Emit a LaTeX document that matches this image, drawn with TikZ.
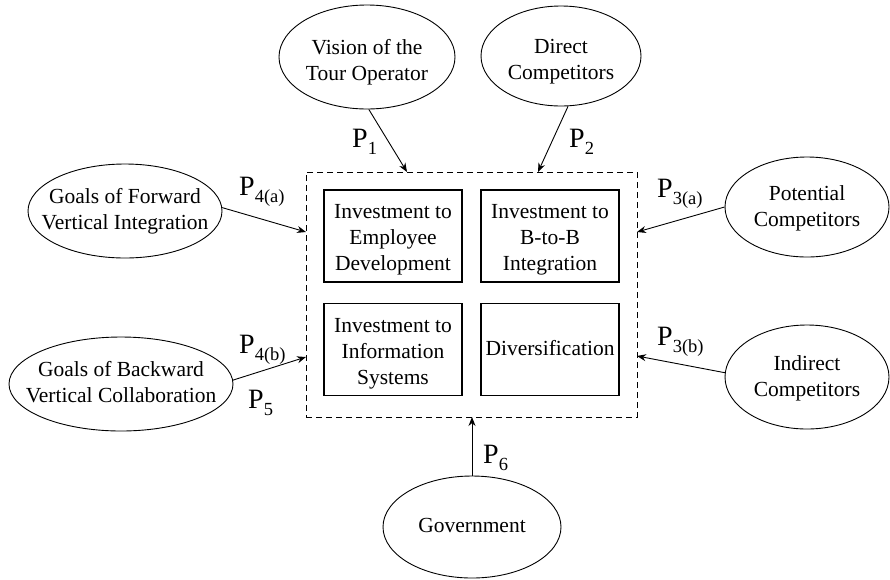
\documentclass[tikz,border=0pt]{standalone}
\usepackage{fontspec}
\setmainfont{Liberation Serif}
\usetikzlibrary{shapes.geometric,arrows.meta}
\newcommand\plab[1]{{\fontsize{28}{30}\selectfont P}\raisebox{-7pt}{\fontsize{18.5}{20}\selectfont #1}}
\newcommand\celltext[2]{\raisebox{#1}[0pt][0pt]{\makebox[0pt]{\begin{tabular}{@{}c@{}}#2\end{tabular}}}}
\begin{document}
\begin{tikzpicture}[x=1pt,y=-1pt,
  ell/.style={draw,ellipse,line width=0.9pt,inner sep=0pt,font=\fontsize{21.5}{26}\selectfont},
  ibox/.style={draw,rectangle,line width=1.3pt,inner sep=0pt,minimum width=138pt,minimum height=92pt,font=\fontsize{21.5}{26}\selectfont},
  outerbox/.style={draw,rectangle,dashed,dash pattern=on 6pt off 4pt,line width=0.9pt,inner sep=0pt,minimum width=331pt,minimum height=245pt},
  arr/.style={-{Stealth[length=9pt,width=7pt]},line width=0.9pt},
  plabel/.style={anchor=base west,inner sep=0pt}]
\useasboundingbox (0,0) rectangle (890,579);

\node[outerbox] (outer) at (471.5,294.5) {};
\node[ibox] (emp) at (393,236) {\celltext{-8.5pt}{Investment to\\Employee\\Development}};
\node[ibox] (btb) at (550,236) {\celltext{-8.5pt}{Investment to\\B-to-B\\Integration}};
\node[ibox] (inf) at (393,349.5) {\celltext{-8.5pt}{Investment to\\Information\\Systems}};
\node[ibox] (div) at (550,349.5) {\celltext{-6pt}{Diversification}};

\node[ell,minimum width=176pt,minimum height=104pt] (vis) at (367,57) {\celltext{-10pt}{Vision of the\\Tour Operator}};
\node[ell,minimum width=160pt,minimum height=100pt] (dir) at (561,56) {\celltext{-10pt}{Direct\\Competitors}};
\node[ell,minimum width=194pt,minimum height=94pt] (fwd) at (125,211) {\celltext{-5.5pt}{Goals of Forward\\Vertical Integration}};
\node[ell,minimum width=224pt,minimum height=94pt] (bwd) at (121,384) {\celltext{-5.5pt}{Goals of Backward\\Vertical Collaboration}};
\node[ell,minimum width=164pt,minimum height=100pt] (pot) at (807,207) {\celltext{-6pt}{Potential\\Competitors}};
\node[ell,minimum width=164pt,minimum height=104pt] (ind) at (807,377) {\celltext{-6pt}{Indirect\\Competitors}};
\node[ell,minimum width=178pt,minimum height=102pt] (gov) at (472,527) {\celltext{-5.5pt}{Government}};

\coordinate (t1) at (407,172);
\coordinate (t2) at (538,172);
\coordinate (t4a) at (306,232);
\coordinate (t4b) at (306,357);
\coordinate (t3a) at (637,232);
\coordinate (t3b) at (637,356);
\coordinate (t6) at (472,417);

\draw[arr] (vis.-88) -- (t1);
\draw[arr] (dir.-82) -- (t2);
\draw[arr] (fwd.2) -- (t4a);
\draw[arr] (bwd.2) -- (t4b);
\draw[arr] (pot.180) -- (t3a);
\draw[arr] (ind.177) -- (t3b);
\draw[arr] (gov.north) -- (t6);

\node[plabel] (p1) at (352,147) {\plab{1}};
\node[plabel] (p2) at (569,147) {\plab{2}};
\node[plabel] (p4a) at (239,195) {\plab{4(a)}};
\node[plabel] (p4b) at (239,353) {\plab{4(b)}};
\node[plabel] (p5) at (248,408) {\plab{5}};
\node[plabel] (p3a) at (657,197) {\plab{3(a)}};
\node[plabel] (p3b) at (657,345) {\plab{3(b)}};
\node[plabel] (p6) at (483,463) {\plab{6}};
\end{tikzpicture}
\end{document}
